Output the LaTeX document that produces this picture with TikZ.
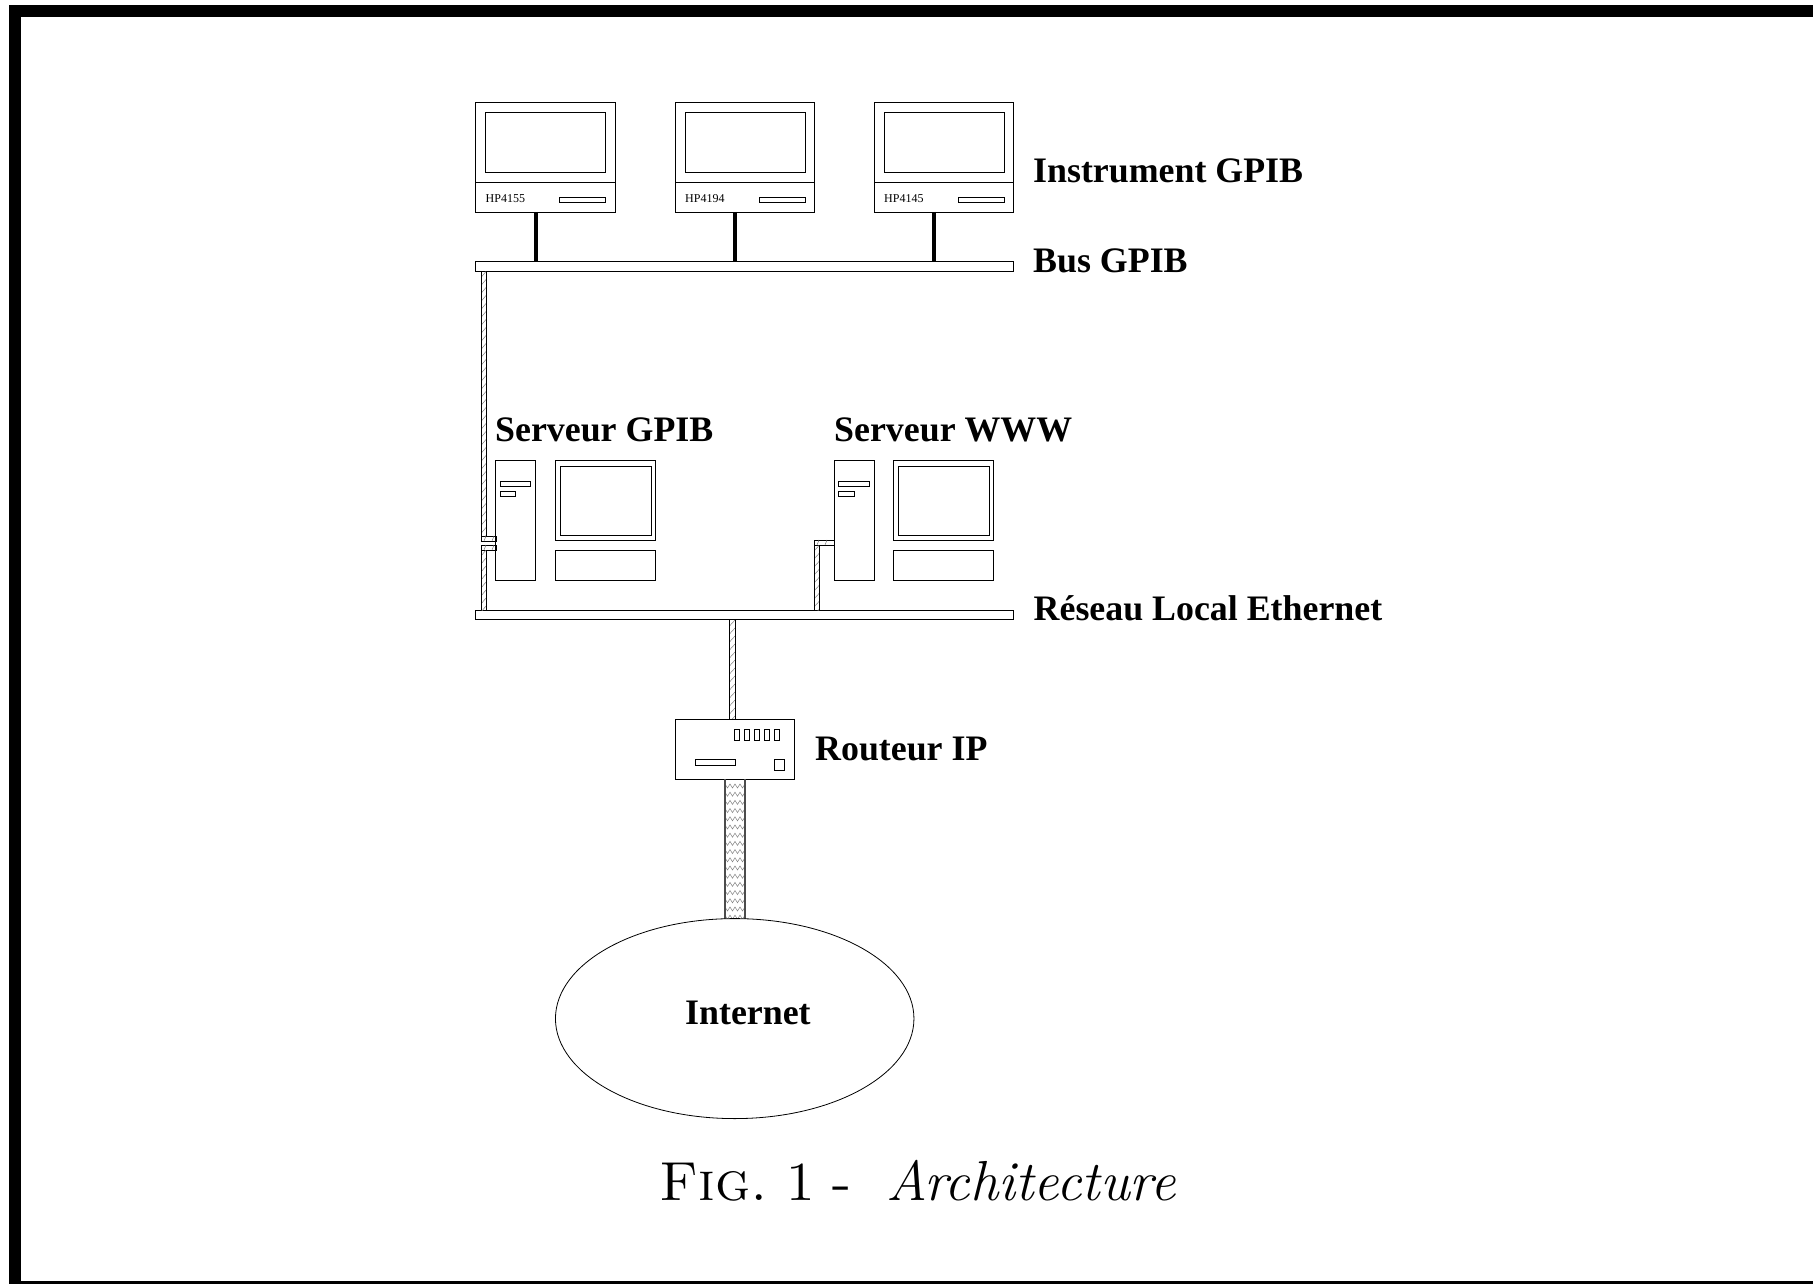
\documentclass[tikz,border=0pt]{standalone}
\usepackage{fontspec}
\usetikzlibrary{shapes.geometric}
\newfontfamily\timesf{Liberation Serif}
\tikzset{
  x=1pt,y=-1pt,
  box/.style={draw=black,line width=0.8pt,fill=white,inner sep=0pt,outer sep=0pt,rectangle},
  lbl/.style={anchor=base west,inner sep=0pt,font=\timesf\bfseries\fontsize{35.85}{40}\selectfont},
  smalltxt/.style={anchor=base west,inner sep=0pt,font=\timesf\fontsize{12}{14}\selectfont},
  captxt/.style={anchor=base west,inner sep=0pt,font=\fontsize{55}{60}\selectfont},
  capital/.style={anchor=base west,inner sep=0pt,font=\fontsize{56.4}{60}\selectfont\itshape},
  stem/.style={line width=4pt,line cap=butt},
  hatch/.style={draw=black!50,line width=0.5pt},
  wire/.style={draw=black,line width=0.8pt}
}
\newcommand{\devbox}[5]{%
  \pgfmathsetmacro\bw{#4-#2}\pgfmathsetmacro\bh{#5-#3}%
  \pgfmathsetmacro\bcx{(#2+#4)/2}\pgfmathsetmacro\bcy{(#3+#5)/2}%
  \node[box,minimum width=\bw pt,minimum height=\bh pt] (#1) at (\bcx,\bcy) {};}
% instrument: name, left x, label
\newcommand{\instrument}[3]{%
  \pgfmathsetmacro\ia{#2}\pgfmathsetmacro\ib{#2+139.5}%
  \devbox{#1}{\ia}{102}{\ib}{212}
  \draw[wire] (\ia,182) -- (\ib,182);
  \pgfmathsetmacro\ic{#2+10}\pgfmathsetmacro\id{#2+130}%
  \devbox{#1s}{\ic}{112}{\id}{172}
  \pgfmathsetmacro\ie{#2+84}%
  \devbox{#1k}{\ie}{197}{\id}{202}
  \node[smalltxt] (#1t) at (\ic,202.8) {#3};}
% computer: name, tower left x
\newcommand{\computer}[2]{%
  \pgfmathsetmacro\ca{#2}\pgfmathsetmacro\cb{#2+40}%
  \devbox{#1}{\ca}{460}{\cb}{580}
  \pgfmathsetmacro\cc{#2+4.5}\pgfmathsetmacro\cd{#2+35}\pgfmathsetmacro\ce{#2+20}%
  \devbox{#1a}{\cc}{481}{\cd}{486}
  \devbox{#1b}{\cc}{491}{\ce}{496}
  \pgfmathsetmacro\cf{#2+59.5}\pgfmathsetmacro\cg{#2+159.5}%
  \devbox{#1m}{\cf}{460}{\cg}{540}
  \pgfmathsetmacro\ch{#2+64.5}\pgfmathsetmacro\ci{#2+155.5}%
  \devbox{#1n}{\ch}{466}{\ci}{535}
  \devbox{#1k}{\cf}{550}{\cg}{580}}
% hatched coax between heights: x1,x2,y1,y2 (vertical)
\newcommand{\coax}[4]{%
  \begin{scope}
    \clip (#1,#3) rectangle (#2,#4);
    \pgfmathsetmacro\cstart{#3}\pgfmathsetmacro\cnext{#3+8}%
    \foreach \yy in {\cstart,\cnext,...,#4} {\draw[hatch] (#1,\yy+6) -- (#2,\yy);}
  \end{scope}
  \draw[wire] (#1,#3) -- (#1,#4) (#2,#3) -- (#2,#4);}
% horizontal stub: x1,x2,y1,y2
\newcommand{\stub}[4]{%
  \draw[wire] (#1,#3) rectangle (#2,#4);
  \draw[hatch] (#1+3,#4) -- (#1+5,#3) (#1+11,#4) -- (#1+13,#3);}
\begin{document}
\begin{tikzpicture}
\useasboundingbox (0,0) rectangle (1813,1284);
% frame
\fill[black] (9,5) rectangle (1813,17);
\fill[black] (9,5) rectangle (21,1284);
\fill[black] (9,1281) rectangle (1813,1284);
% instruments
\instrument{ia}{475.5}{HP4155}
\instrument{ib}{675}{HP4194}
\instrument{ic}{874}{HP4145}
% buses
\devbox{gbus}{475.5}{261.5}{1013.5}{271.5}
\devbox{ebus}{475.5}{610}{1013.5}{619.5}
% stems
\coordinate (s1) at (536,0);
\coordinate (s2) at (735,0);
\coordinate (s3) at (934,0);
\draw[stem] (s1 |- ia.south) -- (s1 |- gbus.north);
\draw[stem] (s2 |- ib.south) -- (s2 |- gbus.north);
\draw[stem] (s3 |- ic.south) -- (s3 |- gbus.north);
% computers
\computer{ca}{495.5}
\computer{cb}{834}
% coax cables
\coax{481}{486}{271.5}{536}
\stub{481}{496}{536}{541}
\stub{481}{496}{545}{550}
\coax{481}{486}{550}{610}
\stub{814}{834}{540}{545}
\coax{814}{819.5}{545}{610}
\coax{729.5}{735}{620}{719}
% router
\devbox{rt}{675}{719}{794.5}{779}
\foreach \i/\lx in {1/734.5,2/744.5,3/754.5,4/764.5,5/774.5}{
  \pgfmathsetmacro\rx{\lx+5}
  \devbox{led\i}{\lx}{729}{\rx}{740}
}
\devbox{rts}{695}{759}{735}{765}
\devbox{rtq}{774}{759}{784.5}{770}
% thick cable
\begin{scope}
\clip (725,779) rectangle (745,919);
\foreach \yy in {780,788.2,...,925}{
  \draw[hatch] (725,\yy+4) -- ++(2.5,4) -- ++(2.5,-4) -- ++(2.5,4) -- ++(2.5,-4) -- ++(2.5,4) -- ++(2.5,-4) -- ++(2.5,4) -- ++(2.5,-4);
}
\end{scope}
\draw[wire,draw=black!70,line width=1.2pt] (725,779) -- (725,919) (745,779) -- (745,919);
% internet
\node[draw=black,line width=0.8pt,fill=white,ellipse,inner sep=0pt,minimum width=358.5pt,minimum height=200pt,outer sep=0pt] (net) at (734.7,1018.6) {};
% labels
\node[lbl] (t1) at (1033,182.4) {Instrument GPIB};
\node[lbl] (t2) at (1033,272.6) {Bus GPIB};
\node[lbl] (t3) at (495,441) {Serveur GPIB};
\node[lbl] (t4) at (834,441) {Serveur WWW};
\node[lbl] (t5) at (1033.5,620) {Réseau Local Ethernet};
\node[lbl] (t6) at (815,760) {Routeur IP};
\node[lbl] (t7) at (685,1024) {Internet};
\node[captxt] (c1) at (659,1200) {\scshape Fig.\hspace{17.5pt}1\hspace{16pt}-};
\node[capital] (c2) at (886,1200) {Architecture};
\end{tikzpicture}
\end{document}
